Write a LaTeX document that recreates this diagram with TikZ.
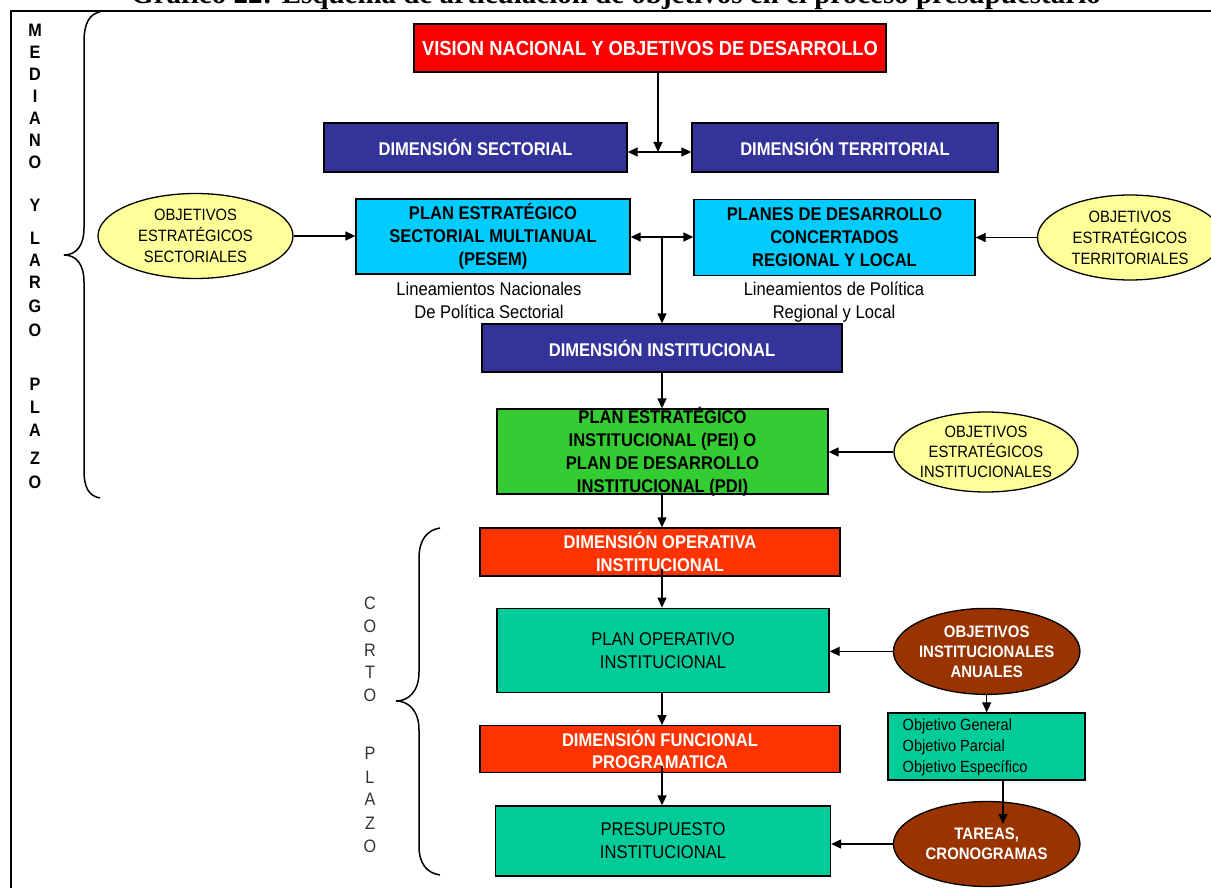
\documentclass[tikz,border=0pt]{standalone}
\usepackage{fontspec}
\setmainfont{Liberation Sans}[FakeStretch=0.9]
\newfontfamily\titlefont{Liberation Serif}
\usetikzlibrary{arrows.meta,shapes.geometric}

\definecolor{cRed}{HTML}{FF0000}
\definecolor{cNavy}{HTML}{333399}
\definecolor{cCyan}{HTML}{00CCFF}
\definecolor{cYellow}{HTML}{FFFF99}
\definecolor{cGreen}{HTML}{33CC33}
\definecolor{cOrange}{HTML}{FF3300}
\definecolor{cTeal}{HTML}{00CC99}
\definecolor{cBrown}{HTML}{993300}

\tikzset{
  box/.style={draw=black, line width=1.3pt, inner sep=0pt, align=center},
  oval/.style={ellipse, draw=black, line width=1.3pt, inner sep=0pt},
  txt/.style={inner sep=0pt, align=center},
  bigbold/.style={font=\bfseries\fontsize{18.4}{23}\selectfont},
  bigreg/.style={font=\fontsize{18.4}{23}\selectfont},
  ovaltxt/.style={font=\fontsize{16.4}{21}\selectfont},
  ovalbold/.style={font=\bfseries\fontsize{16.6}{20}\selectfont, text=white},
  sidebold/.style={inner sep=0pt, font=\bfseries\fontsize{18}{18}\selectfont},
  sidereg/.style={inner sep=0pt, font=\fontsize{18}{18}\selectfont, text=black!80},
  arr/.style={-{Triangle[length=10pt,width=9pt]}, line width=1.3pt},
  darr/.style={{Triangle[length=10pt,width=9pt]}-{Triangle[length=10pt,width=9pt]}, line width=1.3pt},
  brace/.style={line width=1.5pt}
}

\begin{document}
\begin{tikzpicture}[x=1pt,y=-1pt]
\useasboundingbox (0,0) rectangle (1211,888);
\clip (0,0) rectangle (1211,888);

% caption line, cut by the top edge
\node[inner sep=0pt, anchor=base, font=\titlefont\bfseries\fontsize{29}{29}\selectfont] (title) at (616,4)
  {Gráfico 22: Esquema de articulación de objetivos en el proceso presupuestario};

% frame
\draw[line width=2pt] (11,888) -- (11,11) -- (1211,11);

% long-term side label
\foreach \ch/\yy [count=\i] in {M/30,E/52,D/74,I/96,A/118,N/140,O/162,Y/205,L/238,A/260,R/282,G/306,O/330,P/384,L/407,A/430,Z/458,O/482}
  \node[sidebold] (lt\i) at (35,\yy) {\ch};

% short-term side label
\foreach \ch/\yy [count=\i] in {C/603,O/626,R/650,T/672,O/695,P/753,L/777,A/799,Z/823,O/846}
  \node[sidereg] (st\i) at (370,\yy) {\ch};

% braces
\draw[brace] (100,12) .. controls (89,14) and (84,24) .. (84,42) -- (84,228)
  .. controls (84,246) and (76,255) .. (64,255)
  .. controls (76,255) and (84,264) .. (84,282) -- (84,470)
  .. controls (84,488) and (89,496) .. (100,498);
\draw[brace] (440,528) .. controls (427,530) and (419,540) .. (419,558) -- (419,672)
  .. controls (419,692) and (408,701) .. (396,701)
  .. controls (408,701) and (419,710) .. (419,730) -- (419,846)
  .. controls (419,864) and (427,873) .. (440,875);

% boxes
\node[box, fill=cRed, text=white, font=\bfseries\fontsize{20.4}{24}\selectfont,
  minimum width=472, minimum height=48] (vision) at (650,48) {VISION NACIONAL Y OBJETIVOS DE DESARROLLO};

\node[box, fill=cNavy, text=white, bigbold, minimum width=303, minimum height=49] (dsec) at (475.5,147.5) {DIMENSIÓN SECTORIAL};
\node[box, fill=cNavy, text=white, bigbold, minimum width=306, minimum height=49] (dter) at (845,147.5) {DIMENSIÓN TERRITORIAL};

\node[box, fill=cCyan, bigbold, minimum width=274, minimum height=75] (pesem) at (493,236.5)
  {PLAN ESTRATÉGICO\\SECTORIAL MULTIANUAL\\(PESEM)};
\node[box, fill=cCyan, bigbold, minimum width=281, minimum height=76] (planes) at (834.5,237.5)
  {PLANES DE DESARROLLO\\CONCERTADOS\\REGIONAL Y LOCAL};

\node[txt, bigreg] (linsec) at (489,300) {Lineamientos Nacionales\\De Política Sectorial};
\node[txt, bigreg] (linreg) at (834,302) {Lineamientos de Política\\Regional y Local};

\node[oval, fill=cYellow, minimum width=195, minimum height=85] (esect) at (195.5,236) {};
\node[txt, ovaltxt] (esecttxt) at (esect.center) {OBJETIVOS\\ESTRATÉGICOS\\SECTORIALES};
\node[oval, fill=cYellow, minimum width=185, minimum height=85] (eterr) at (1130,237.5) {};
\node[txt, ovaltxt] (eterrtxt) at (eterr.center) {OBJETIVOS\\ESTRATÉGICOS\\TERRITORIALES};

\node[box, fill=cNavy, text=white, bigbold, minimum width=360, minimum height=48] (dinst) at (662,348) {DIMENSIÓN INSTITUCIONAL};

\node[box, fill=cGreen, minimum width=331, minimum height=85] (pei) at (662.5,451.5) {};
\node[txt, bigbold] (peitxt) at (pei.center)
  {PLAN ESTRATÉGICO\\INSTITUCIONAL (PEI) O\\PLAN DE DESARROLLO\\INSTITUCIONAL (PDI)};

\node[oval, fill=cYellow, minimum width=184, minimum height=80] (einst) at (986,452) {};
\node[txt, ovaltxt, font=\fontsize{16.4}{20}\selectfont] (einsttxt) at (einst.center) {OBJETIVOS\\ESTRATÉGICOS\\INSTITUCIONALES};

\node[box, fill=cOrange, text=white, font=\bfseries\fontsize{18.4}{22.7}\selectfont,
  minimum width=360, minimum height=48] (dop) at (660,552) {DIMENSIÓN OPERATIVA\\INSTITUCIONAL};

\node[box, fill=cTeal, bigreg, minimum width=332, minimum height=84.5] (poi) at (663,650.5)
  {PLAN OPERATIVO\\INSTITUCIONAL};

\node[oval, fill=cBrown, minimum width=186.5, minimum height=86] (eanu) at (986.7,651.4) {};
\node[txt, ovalbold] (eanutxt) at (eanu.center) {OBJETIVOS\\INSTITUCIONALES\\ANUALES};

\node[box, fill=cTeal, minimum width=197, minimum height=67] (objbox) at (986.5,746.5) {};
\node[inner sep=0pt, align=left, anchor=west, font=\fontsize{16.2}{21}\selectfont] (objtxt) at (902.5,747)
  {Objetivo General\\Objetivo Parcial\\Objetivo Específico};

\node[box, fill=cOrange, text=white, font=\bfseries\fontsize{18.4}{22.7}\selectfont,
  minimum width=360, minimum height=47] (dfun) at (660,749.3) {DIMENSIÓN FUNCIONAL\\PROGRAMATICA};

\node[box, fill=cTeal, bigreg, minimum width=335, minimum height=70] (presup) at (663,841)
  {PRESUPUESTO\\INSTITUCIONAL};

\node[oval, fill=cBrown, minimum width=186.5, minimum height=85] (etar) at (986.7,844) {};
\node[txt, ovalbold] (etartxt) at (etar.center) {TAREAS,\\CRONOGRAMAS};

% connectors
\coordinate (j1) at (658,152);
\draw[arr] (vision.south -| j1) -- (j1);
\draw[darr] (dsec.east |- j1) -- (dter.west |- j1);

\coordinate (j2) at (662,237);
\draw[darr] (pesem.east |- j2) -- (planes.west |- j2);
\draw[arr] (j2) -- (dinst.north -| j2);

\draw[arr] (esect.east) -- (esect.east -| pesem.west);
\draw[arr] (eterr.west) -- (eterr.west -| planes.east);

\draw[arr] (dinst.south -| j2) -- (pei.north -| j2);
\draw[arr] (einst.west) -- (einst.west -| pei.east);

\draw[arr] (pei.south -| j2) -- (dop.north -| j2);
\draw[arr] ([yshift=8pt]dop.south -| j2) -- (poi.north -| j2);
\draw[arr] (eanu.west) -- (eanu.west -| poi.east);
\draw[arr] (eanu.south) -- (eanu.south |- objbox.north);

\draw[arr] (poi.south -| j2) -- (dfun.north -| j2);
\draw[arr] ([yshift=7pt]dfun.south -| j2) -- (presup.north -| j2);

\coordinate (j3) at (1003,824);
\draw[arr] (objbox.south -| j3) -- (j3);
\draw[arr] (etar.west) -- (etar.west -| presup.east);
\end{tikzpicture}
\end{document}
